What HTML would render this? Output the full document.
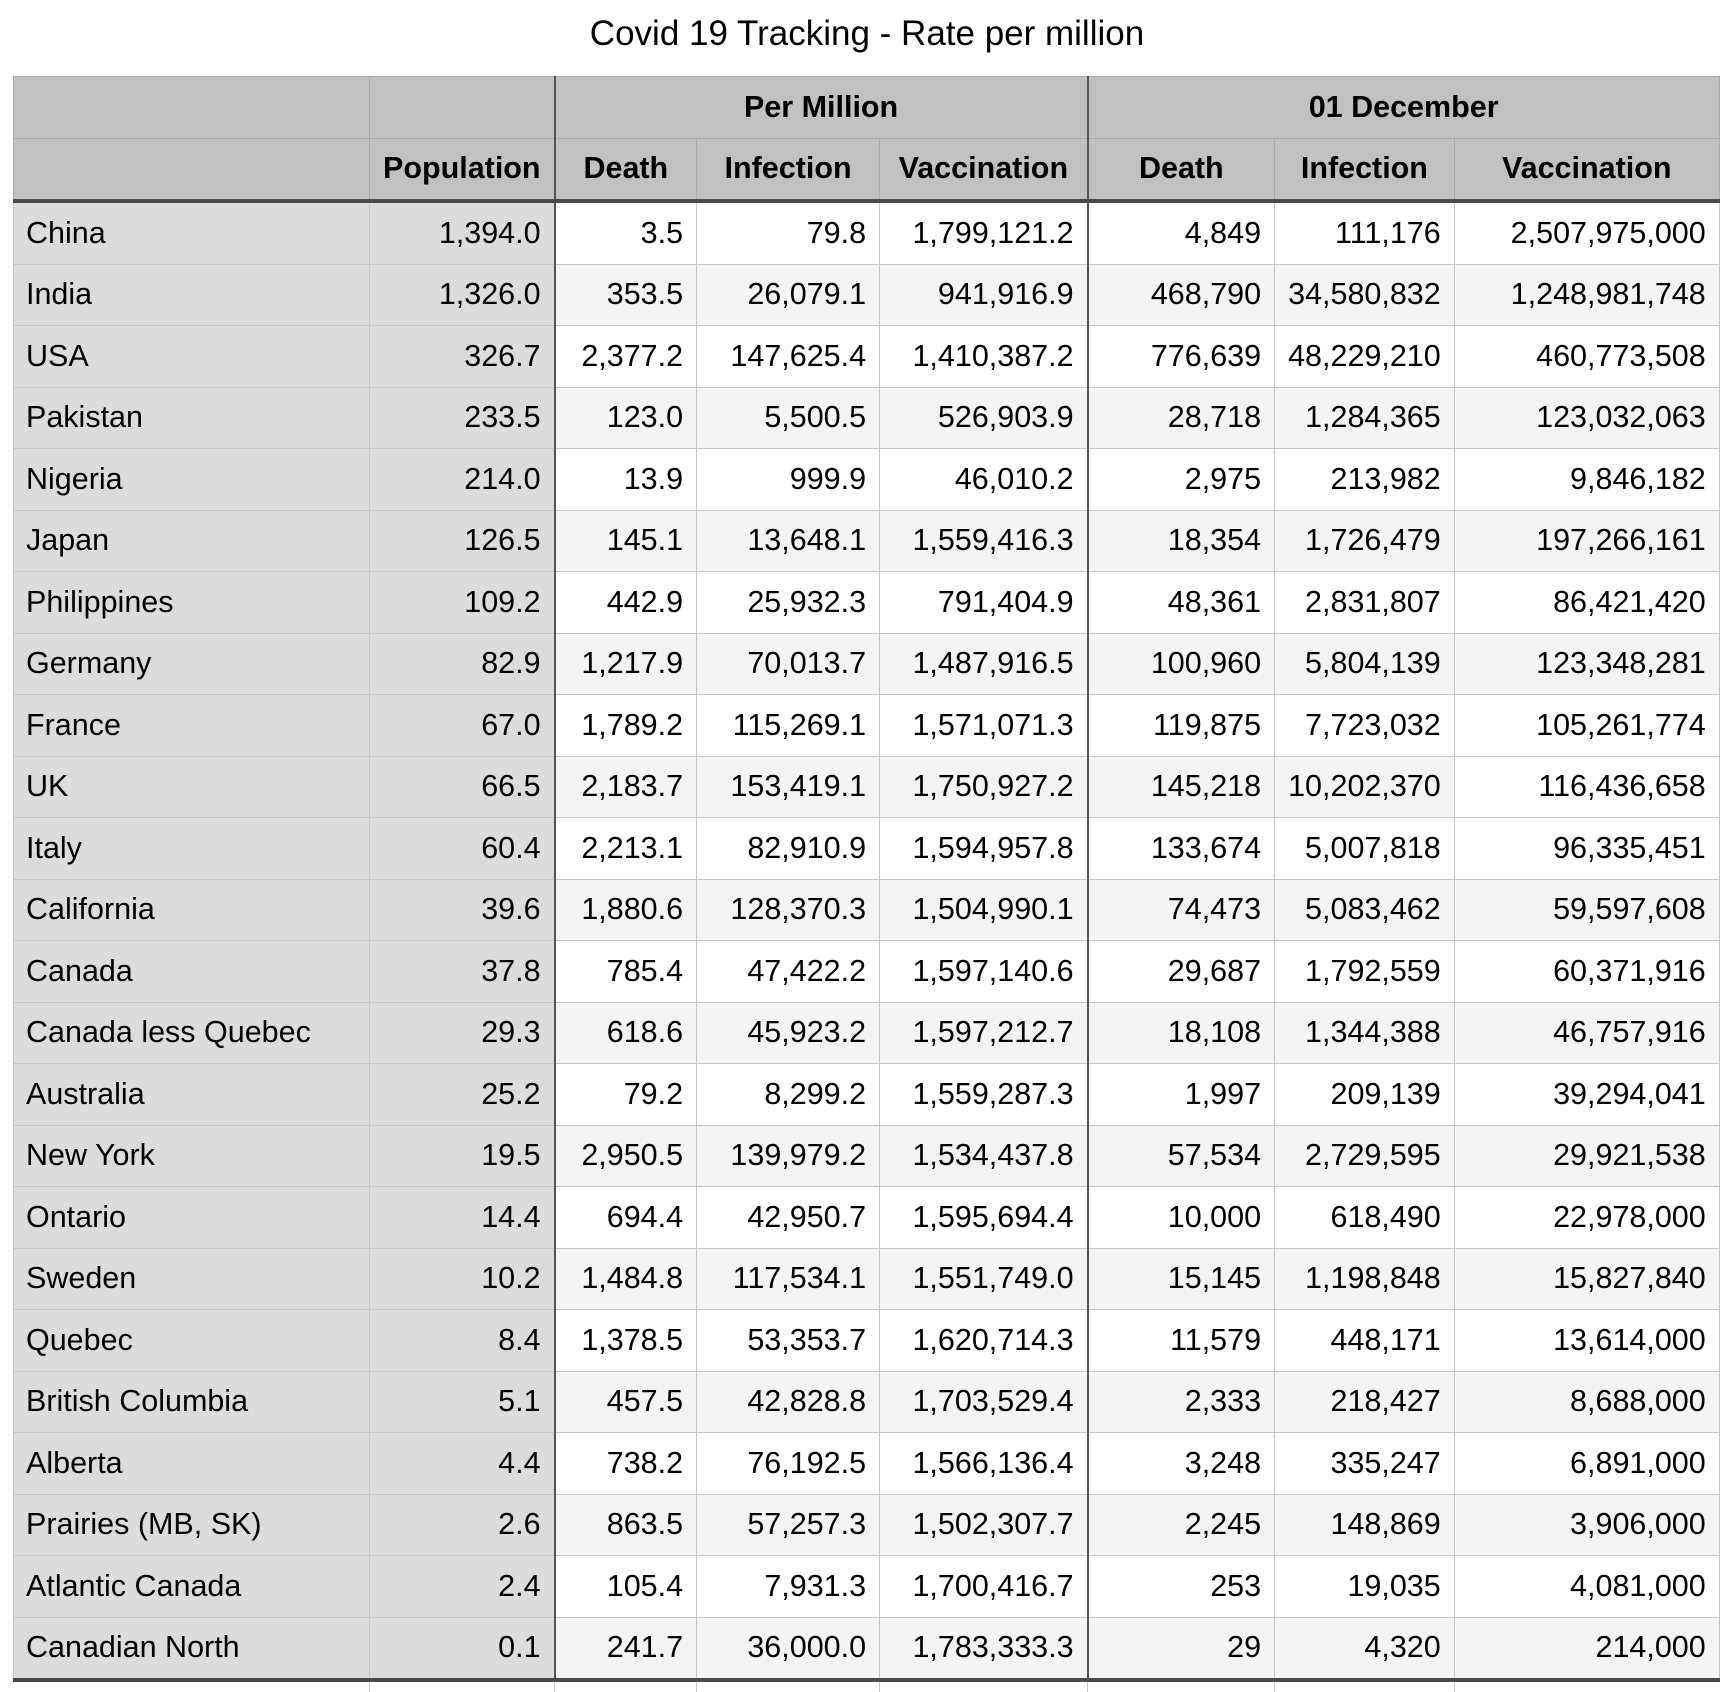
<!DOCTYPE html>
<html><head><meta charset="utf-8"><style>
body{margin:0;width:1734px;height:1690px;background:#fff;overflow:hidden;font-family:"Liberation Sans",Arial,sans-serif;}
.title{position:absolute;top:14px;left:0;width:1734px;text-align:center;font-size:35px;color:#000;}
table{position:absolute;left:13px;top:76px;border-collapse:collapse;table-layout:fixed;font-size:30.5px;}
td{height:60.5px;padding:0 13px;border:1px solid #c8c8c8;text-align:right;white-space:nowrap;color:#000;}
td:first-child{text-align:left;padding-left:12px;}
tr.h td{background:#c0c1c0;font-weight:bold;text-align:center;border-color:#a9a9a9;}
tr.h2 td{border-bottom:4px solid #4a4a4a;}
tr.d td{background:#f4f4f4;}
tr.d:nth-child(odd) td{background:#fff;}
tr.d td.g{background:#dcdcdc;}
.tb{border-right:2px solid #555 !important;}
tr.last td{border-bottom:4px solid #4a4a4a;}
tr.x td{height:10px;border-top:none;border-bottom:none;background:#fff;}
</style></head><body>
<div class="title">Covid 19 Tracking - Rate per million</div>
<table>
<colgroup><col style="width:356px"><col style="width:180px"><col style="width:142px"><col style="width:183px"><col style="width:208px"><col style="width:187px"><col style="width:178px"><col style="width:265px"></colgroup>
<tr class="h"><td></td><td class="tb"></td><td colspan="3" class="tb">Per Million</td><td colspan="3">01 December</td></tr>
<tr class="h h2"><td></td><td class="tb">Population</td><td>Death</td><td>Infection</td><td class="tb">Vaccination</td><td>Death</td><td>Infection</td><td>Vaccination</td></tr>
<tr class="d"><td class="g">China</td><td class="g tb">1,394.0</td><td>3.5</td><td>79.8</td><td class="tb">1,799,121.2</td><td>4,849</td><td>111,176</td><td>2,507,975,000</td></tr>
<tr class="d"><td class="g">India</td><td class="g tb">1,326.0</td><td>353.5</td><td>26,079.1</td><td class="tb">941,916.9</td><td>468,790</td><td>34,580,832</td><td>1,248,981,748</td></tr>
<tr class="d"><td class="g">USA</td><td class="g tb">326.7</td><td>2,377.2</td><td>147,625.4</td><td class="tb">1,410,387.2</td><td>776,639</td><td>48,229,210</td><td>460,773,508</td></tr>
<tr class="d"><td class="g">Pakistan</td><td class="g tb">233.5</td><td>123.0</td><td>5,500.5</td><td class="tb">526,903.9</td><td>28,718</td><td>1,284,365</td><td>123,032,063</td></tr>
<tr class="d"><td class="g">Nigeria</td><td class="g tb">214.0</td><td>13.9</td><td>999.9</td><td class="tb">46,010.2</td><td>2,975</td><td>213,982</td><td>9,846,182</td></tr>
<tr class="d"><td class="g">Japan</td><td class="g tb">126.5</td><td>145.1</td><td>13,648.1</td><td class="tb">1,559,416.3</td><td>18,354</td><td>1,726,479</td><td>197,266,161</td></tr>
<tr class="d"><td class="g">Philippines</td><td class="g tb">109.2</td><td>442.9</td><td>25,932.3</td><td class="tb">791,404.9</td><td>48,361</td><td>2,831,807</td><td>86,421,420</td></tr>
<tr class="d"><td class="g">Germany</td><td class="g tb">82.9</td><td>1,217.9</td><td>70,013.7</td><td class="tb">1,487,916.5</td><td>100,960</td><td>5,804,139</td><td>123,348,281</td></tr>
<tr class="d"><td class="g">France</td><td class="g tb">67.0</td><td>1,789.2</td><td>115,269.1</td><td class="tb">1,571,071.3</td><td>119,875</td><td>7,723,032</td><td>105,261,774</td></tr>
<tr class="d"><td class="g">UK</td><td class="g tb">66.5</td><td>2,183.7</td><td>153,419.1</td><td class="tb">1,750,927.2</td><td>145,218</td><td>10,202,370</td><td style="background:#fff">116,436,658</td></tr>
<tr class="d"><td class="g">Italy</td><td class="g tb">60.4</td><td>2,213.1</td><td>82,910.9</td><td class="tb">1,594,957.8</td><td>133,674</td><td>5,007,818</td><td>96,335,451</td></tr>
<tr class="d"><td class="g">California</td><td class="g tb">39.6</td><td>1,880.6</td><td>128,370.3</td><td class="tb">1,504,990.1</td><td>74,473</td><td>5,083,462</td><td>59,597,608</td></tr>
<tr class="d"><td class="g">Canada</td><td class="g tb">37.8</td><td>785.4</td><td>47,422.2</td><td class="tb">1,597,140.6</td><td>29,687</td><td>1,792,559</td><td>60,371,916</td></tr>
<tr class="d"><td class="g">Canada less Quebec</td><td class="g tb">29.3</td><td>618.6</td><td>45,923.2</td><td class="tb">1,597,212.7</td><td>18,108</td><td>1,344,388</td><td>46,757,916</td></tr>
<tr class="d"><td class="g">Australia</td><td class="g tb">25.2</td><td>79.2</td><td>8,299.2</td><td class="tb">1,559,287.3</td><td>1,997</td><td>209,139</td><td>39,294,041</td></tr>
<tr class="d"><td class="g">New York</td><td class="g tb">19.5</td><td>2,950.5</td><td>139,979.2</td><td class="tb">1,534,437.8</td><td>57,534</td><td>2,729,595</td><td>29,921,538</td></tr>
<tr class="d"><td class="g">Ontario</td><td class="g tb">14.4</td><td>694.4</td><td>42,950.7</td><td class="tb">1,595,694.4</td><td>10,000</td><td>618,490</td><td>22,978,000</td></tr>
<tr class="d"><td class="g">Sweden</td><td class="g tb">10.2</td><td>1,484.8</td><td>117,534.1</td><td class="tb">1,551,749.0</td><td>15,145</td><td>1,198,848</td><td>15,827,840</td></tr>
<tr class="d"><td class="g">Quebec</td><td class="g tb">8.4</td><td>1,378.5</td><td>53,353.7</td><td class="tb">1,620,714.3</td><td>11,579</td><td>448,171</td><td>13,614,000</td></tr>
<tr class="d"><td class="g">British Columbia</td><td class="g tb">5.1</td><td>457.5</td><td>42,828.8</td><td class="tb">1,703,529.4</td><td>2,333</td><td>218,427</td><td>8,688,000</td></tr>
<tr class="d"><td class="g">Alberta</td><td class="g tb">4.4</td><td>738.2</td><td>76,192.5</td><td class="tb">1,566,136.4</td><td>3,248</td><td>335,247</td><td>6,891,000</td></tr>
<tr class="d"><td class="g">Prairies (MB, SK)</td><td class="g tb">2.6</td><td>863.5</td><td>57,257.3</td><td class="tb">1,502,307.7</td><td>2,245</td><td>148,869</td><td>3,906,000</td></tr>
<tr class="d"><td class="g">Atlantic Canada</td><td class="g tb">2.4</td><td>105.4</td><td>7,931.3</td><td class="tb">1,700,416.7</td><td>253</td><td>19,035</td><td>4,081,000</td></tr>
<tr class="d last"><td class="g">Canadian North</td><td class="g tb">0.1</td><td>241.7</td><td>36,000.0</td><td class="tb">1,783,333.3</td><td>29</td><td>4,320</td><td>214,000</td></tr>
<tr class="x"><td style="border-left:none"></td><td></td><td></td><td></td><td></td><td></td><td></td><td style="border-right:none"></td></tr>
</table>
</body></html>
